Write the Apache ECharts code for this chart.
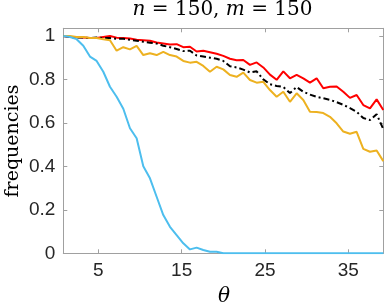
<!DOCTYPE html>
<html><head><meta charset="utf-8">
<script src="https://cdn.jsdelivr.net/npm/echarts@6/dist/echarts.min.js"></script>
<style>html,body{margin:0;padding:0;background:#fff}#c{width:385px;height:307px}</style>
</head><body><div id="c"></div>
<script>
const theta = [0.8,1.6,2.4,3.2,4.0,4.8,5.6,6.4,7.2,8.0,8.8,9.6,10.4,11.2,12.0,12.8,13.6,14.4,15.2,16.0,
  16.8,17.6,18.4,19.2,20.0,20.8,21.6,22.4,23.2,24.0,24.8,25.6,26.4,27.2,28.0,28.8,29.6,30.4,31.2,32.0,
  32.8,33.6,34.4,35.2,36.0,36.8,37.6,38.4,39.2];
const redVals = [1.000,0.995,0.995,0.993,0.990,0.990,0.995,1.000,0.992,0.990,
  0.988,0.982,0.980,0.978,0.970,0.965,0.960,0.962,0.948,0.950,
  0.928,0.932,0.925,0.918,0.908,0.895,0.888,0.889,0.867,0.878,
  0.855,0.822,0.798,0.837,0.805,0.821,0.805,0.785,0.805,0.759,
  0.766,0.767,0.743,0.715,0.728,0.682,0.667,0.708,0.659];
const blackVals = [1.000,0.995,0.993,0.993,0.990,0.993,0.990,0.990,0.987,0.987,
  0.982,0.978,0.973,0.969,0.965,0.955,0.948,0.940,0.930,0.932,
  0.910,0.905,0.900,0.895,0.885,0.860,0.855,0.845,0.832,0.837,
  0.800,0.778,0.770,0.765,0.737,0.765,0.743,0.730,0.720,0.713,
  0.706,0.695,0.683,0.668,0.651,0.622,0.613,0.640,0.571];
const orangeVals = [1.000,1.000,0.995,0.995,0.990,0.990,0.985,0.980,0.932,0.948,
  0.938,0.954,0.912,0.920,0.912,0.927,0.912,0.905,0.885,0.877,
  0.881,0.862,0.835,0.858,0.846,0.820,0.812,0.831,0.797,0.785,
  0.789,0.751,0.720,0.743,0.697,0.736,0.705,0.651,0.650,0.645,
  0.628,0.598,0.560,0.550,0.559,0.480,0.467,0.473,0.424];
const blueVals = [1.000,0.995,0.985,0.955,0.905,0.885,0.835,0.766,0.720,0.665,
  0.575,0.529,0.400,0.345,0.260,0.176,0.122,0.084,0.046,0.018,
  0.026,0.015,0.007,0.007,0,0,0,0,0,0,
  0,0,0,0,0,0,0,0,0,0,
  0,0,0,0,0,0,0,0,0];
const xTicks = [5,15,25,35];
const yTicks = [0,0.2,0.4,0.6,0.8,1];
const titleText = '{i|n} = 150, {i|m} = 150';
const yName = 'frequencies';
const xName = 'θ';

const chart = echarts.init(document.getElementById('c'), null, {renderer:'canvas'});
const pairs = v => theta.map((t,i)=>[t,v[i]]);
const axColor = '#a0a0a0';
const lbl = {color:'#262626', fontSize:19, fontFamily:'Liberation Sans', margin:8};
function xAx(pos, showLabel){
  return {type:'value', position:pos, min:0.8, max:39.2,
    axisLine:{show:true, onZero:false, lineStyle:{color:axColor, width:1}},
    axisTick:{show:true, inside:true, length:4, customValues:xTicks, lineStyle:{color:axColor}},
    axisLabel:Object.assign({show:showLabel, customValues:xTicks}, lbl),
    splitLine:{show:false}};
}
function yAx(pos, showLabel){
  return {type:'value', position:pos, min:0, max:1.035,
    axisLine:{show:true, onZero:false, lineStyle:{color:axColor, width:1}},
    axisTick:{show:true, inside:true, length:4, customValues:yTicks, lineStyle:{color:axColor}},
    axisLabel:Object.assign({show:showLabel, customValues:yTicks, formatter:v=>String(+v.toFixed(1))}, lbl),
    splitLine:{show:false}};
}
function ser(name, vals, color, type){
  return {name, type:'line', data:pairs(vals), showSymbol:false, symbol:'none', clip:true,
    lineStyle:{color, width:2, type:type||'solid'}, xAxisIndex:0, yAxisIndex:0};
}
chart.setOption({
  animation:false,
  backgroundColor:'#fff',
  grid:{left:63.3, right:1.7, top:28.3, bottom:53.7, containLabel:false},
  xAxis:[xAx('bottom', true), xAx('top', false)],
  yAxis:[yAx('left', true), yAx('right', false)],
  series:[
    ser('red', redVals, '#ff0000'),
    ser('black', blackVals, '#000000', [6,3,2,3]),
    ser('orange', orangeVals, '#EDB120'),
    ser('blue', blueVals, '#4DBEEE')
  ],
  graphic:[
    {type:'text', x:222.5, y:10, style:{text:titleText, fontFamily:'DejaVu Serif', fontSize:20, fill:'#000',
      align:'center', verticalAlign:'middle', textAlign:'center', textVerticalAlign:'middle',
      rich:{i:{fontStyle:'italic', fontFamily:'DejaVu Serif', fontSize:20}}}},
    {type:'text', x:13, y:141, rotation:Math.PI/2, style:{text:yName, fontFamily:'DejaVu Serif', fontSize:19, fill:'#000',
      align:'center', verticalAlign:'middle', textAlign:'center', textVerticalAlign:'middle'}},
    {type:'text', x:224, y:297, style:{text:xName, fontFamily:'DejaVu Serif', fontStyle:'italic', fontSize:20, fill:'#000',
      align:'center', verticalAlign:'middle', textAlign:'center', textVerticalAlign:'middle'}}
  ]
});
</script></body></html>
